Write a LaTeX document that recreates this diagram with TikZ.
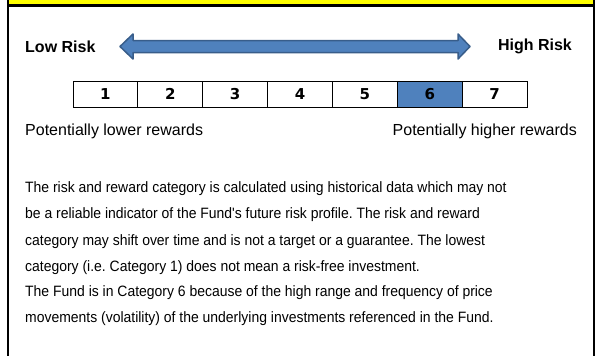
\documentclass[tikz,border=0pt]{standalone}
\usepackage{fontspec}
\setmainfont{Liberation Sans}
\newfontfamily\parafont[FakeStretch=0.93]{Liberation Sans}
\newfontfamily\digitfont{DejaVu Sans}
\definecolor{arrowfill}{HTML}{4F81BD}
\definecolor{arrowline}{HTML}{385D8A}
\definecolor{bandyellow}{HTML}{FFFF00}
\frenchspacing
\begin{document}
\begin{tikzpicture}[x=1pt,y=-1pt,
  cell/.style={draw=black,line width=1pt,minimum width=64.86pt,minimum height=25.5pt,inner sep=0pt,font=\digitfont\fontsize{15}{15}\selectfont\bfseries},
  risklabel/.style={inner sep=0pt,font=\fontsize{16}{16}\selectfont\bfseries},
  reward/.style={inner sep=0pt,font=\fontsize{16}{16}\selectfont},
  para/.style={inner sep=0pt,anchor=base west,font=\parafont\fontsize{15}{15}\selectfont},
  frame/.style={line width=2.4pt,black}]
\useasboundingbox (0,0) rectangle (597,356);
\fill[white] (0,0) rectangle (597,356);
% top band and frame
\fill[bandyellow] (8,0) rectangle (594,4.5);
\draw[frame] (7,5.5) -- (595,5.5);
\draw[frame] (8,0) -- (8,356);
\draw[frame] (593.8,0) -- (593.8,356);
% double arrow
\filldraw[fill=arrowfill,draw=arrowline,line width=1.5pt,line join=round]
  (120,46.5) -- (133,34) -- (133,40.5) -- (458,40.5) -- (458,34) -- (470,46.5)
  -- (458,59) -- (458,52.5) -- (133,52.5) -- (133,59) -- cycle;
\node[risklabel,anchor=west] (low) at (25,46.5) {Low Risk};
\node[risklabel,anchor=east] (high) at (572,46.5) {High Risk};
% scale
\foreach \i in {1,...,7}{
  \node[cell] (c\i) at ({73+64.86*(\i-0.5)},94.3) {\i};
}
\node[cell,fill=arrowfill] at (c6) {6};
\node[reward,anchor=west] (lowrew) at (25,131) {Potentially lower rewards};
\node[reward,anchor=east] (highrew) at (577,131) {Potentially higher rewards};
% paragraph
\node[para] (p1) at (25,192) {The risk and reward category is calculated using historical data which may not};
\node[para] (p2) at (25,218) {be a reliable indicator of the Fund's future risk profile. The risk and reward};
\node[para] (p3) at (25,245) {category may shift over time and is not a target or a guarantee. The lowest};
\node[para] (p4) at (25,271) {category (i.e. Category 1) does not mean a risk-free investment.};
\node[para] (p5) at (25,296) {The Fund is in Category 6 because of the high range and frequency of price};
\node[para] (p6) at (25,322) {movements (volatility) of the underlying investments referenced in the Fund.};
\end{tikzpicture}
\end{document}
